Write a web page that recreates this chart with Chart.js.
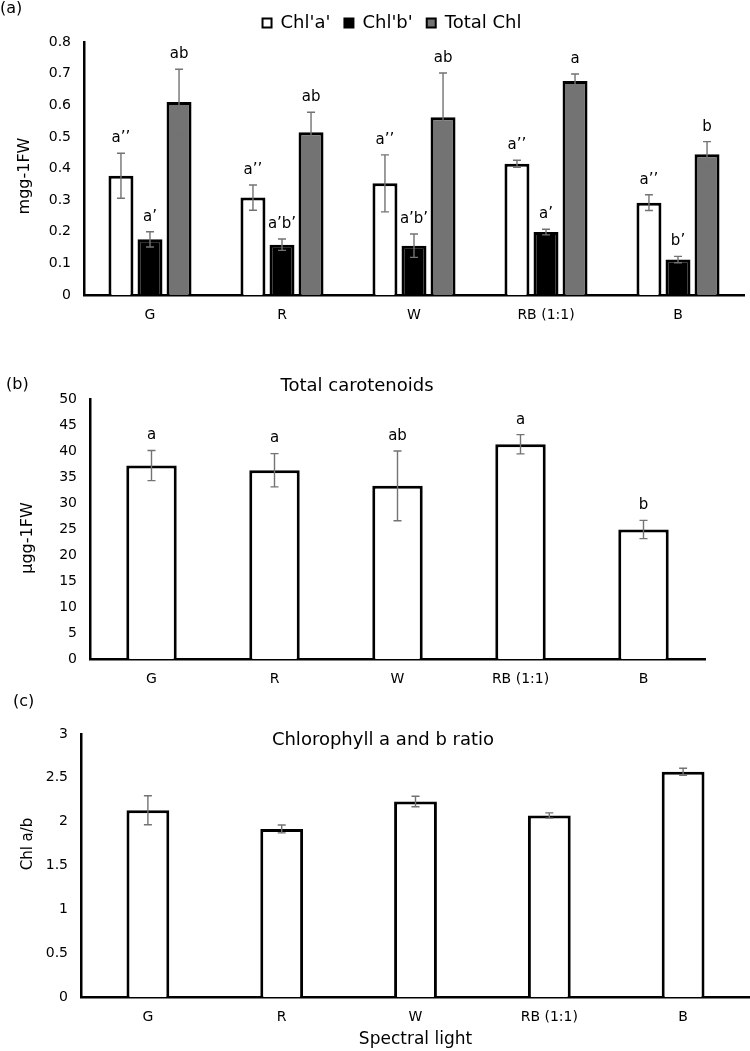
<!DOCTYPE html>
<html>
<head>
<meta charset="utf-8">
<script src="https://cdn.jsdelivr.net/npm/chart.js@4"></script>
<style>
  body { margin: 0; background: #fff; }
  .wrap { position: relative; width: 750px; height: 1051px; }
  canvas { position: absolute; left: 0; }
</style>
</head>
<body>
<div class="wrap">
  <canvas id="chartA" width="750" height="330" style="top:0"></canvas>
  <canvas id="chartB" width="750" height="360" style="top:330px"></canvas>
  <canvas id="chartC" width="750" height="361" style="top:690px"></canvas>
</div>
<script>
const categories = ['G', 'R', 'W', 'RB (1:1)', 'B'];

const chlA = [0.377, 0.308, 0.353, 0.415, 0.292];
const chlAErr = [0.071, 0.040, 0.090, 0.011, 0.025];
const chlALetters = ['a’’', 'a’’', 'a’’', 'a’’', 'a’’'];

const chlB = [0.176, 0.159, 0.156, 0.199, 0.112];
const chlBErr = [0.024, 0.018, 0.037, 0.009, 0.010];
const chlBLetters = ['a’', 'a’b’', 'a’b’', 'a’', 'b’'];

const totalChl = [0.610, 0.515, 0.562, 0.677, 0.445];
const totalChlErr = [0.104, 0.063, 0.140, 0.022, 0.040];
const totalChlLetters = ['ab', 'ab', 'ab', 'a', 'b'];

const carotenoids = [37.2, 36.3, 33.3, 41.3, 24.9];
const carotenoidsErr = [2.9, 3.2, 6.7, 1.85, 1.75];
const carotenoidsLetters = ['a', 'a', 'ab', 'a', 'b'];

const ratioAB = [2.13, 1.917, 2.23, 2.07, 2.57];
const ratioABErr = [0.165, 0.045, 0.06, 0.03, 0.04];

Chart.defaults.font.family = "'DejaVu Sans', sans-serif";
Chart.defaults.color = '#000';

// error bars + significance letters, from dataset.errors / dataset.letters
const errorBars = {
  id: 'errorBars',
  afterDatasetsDraw(chart) {
    const ctx = chart.ctx;
    const y = chart.scales.y;
    chart.data.datasets.forEach((ds, i) => {
      const meta = chart.getDatasetMeta(i);
      meta.data.forEach((bar, j) => {
        const v = ds.data[j];
        const e = ds.errors[j];
        const top = y.getPixelForValue(v + e);
        const bottom = y.getPixelForValue(v - e);
        ctx.save();
        ctx.strokeStyle = '#737373';
        ctx.lineWidth = 1.4;
        ctx.beginPath();
        ctx.moveTo(bar.x, top);
        ctx.lineTo(bar.x, bottom);
        ctx.moveTo(bar.x - 4, top);
        ctx.lineTo(bar.x + 4, top);
        ctx.moveTo(bar.x - 4, bottom);
        ctx.lineTo(bar.x + 4, bottom);
        ctx.stroke();
        if (ds.letters) {
          ctx.fillStyle = '#000';
          ctx.font = "15px 'DejaVu Sans'";
          ctx.textAlign = 'center';
          ctx.textBaseline = 'middle';
          ctx.fillText(ds.letters[j], bar.x, top - 15);
        }
        ctx.restore();
      });
    });
  }
};

// panel letter, title and y-axis title text
const panelText = {
  id: 'panelText',
  afterDraw(chart, args, opts) {
    const ctx = chart.ctx;
    ctx.save();
    ctx.fillStyle = '#000';
    ctx.textBaseline = 'middle';
    ctx.font = "16px 'DejaVu Sans'";
    ctx.textAlign = 'left';
    ctx.fillText(opts.label, opts.labelX, opts.labelY);
    if (opts.title) {
      ctx.font = "18px 'DejaVu Sans'";
      ctx.textAlign = 'center';
      ctx.fillText(opts.title, opts.titleX, opts.titleY);
    }
    ctx.translate(opts.yTitleX, opts.yTitleY);
    ctx.rotate(-Math.PI / 2);
    ctx.font = opts.yTitleSize + "px 'DejaVu Sans'";
    ctx.textAlign = 'center';
    ctx.fillText(opts.yTitle, 0, 0);
    ctx.restore();
  }
};

const shiftLegend = {
  id: 'shiftLegend',
  afterLayout(chart) {
    if (chart.legend && chart.options.plugins.legend.display) {
      chart.legend.left += 20;
      chart.legend.right += 20;
    }
  }
};

const plainNumber = (v) => String(Number(v.toFixed(2)));

function axes(max, step, yWidth, xHeight, xTitle) {
  return {
    x: {
      grid: { display: false, drawTicks: false },
      border: { display: true, color: '#000', width: 2.5 },
      ticks: { font: { size: 14 }, padding: 12 },
      title: xTitle ? { display: true, text: xTitle, font: { size: 17 }, padding: { top: 0, bottom: 1 } } : { display: false },
      afterFit(scale) { scale.height = xHeight; }
    },
    y: {
      min: 0,
      max: max,
      grid: { display: false, drawTicks: false },
      border: { display: true, color: '#000', width: 2.5 },
      ticks: { stepSize: step, font: { size: 14 }, padding: 13, callback: plainNumber },
      afterFit(scale) { scale.width = yWidth; }
    }
  };
}

new Chart(document.getElementById('chartA'), {
  type: 'bar',
  data: {
    labels: categories,
    datasets: [
      { label: "Chl'a'", data: chlA, errors: chlAErr, letters: chlALetters, backgroundColor: '#fff', borderColor: '#000', borderWidth: 3 },
      { label: "Chl'b'", data: chlB, errors: chlBErr, letters: chlBLetters, backgroundColor: '#000', borderColor: '#000', borderWidth: 3 },
      { label: 'Total Chl', data: totalChl, errors: totalChlErr, letters: totalChlLetters, backgroundColor: '#737373', borderColor: '#000', borderWidth: 3 }
    ]
  },
  options: {
    responsive: false,
    animation: false,
    devicePixelRatio: 1,
    categoryPercentage: 0.66,
    barPercentage: 0.86,
    layout: { padding: { top: 0, right: 6, left: 0, bottom: 0 } },
    scales: axes(0.8, 0.1, 84, 35),
    plugins: {
      legend: {
        display: true,
        position: 'top',
        labels: {
          font: { size: 18 },
          boxWidth: 9,
          boxHeight: 9,
          padding: 14,
          generateLabels(chart) {
            return Chart.defaults.plugins.legend.labels.generateLabels(chart).map(l => ({ ...l, lineWidth: 2 }));
          }
        }
      },
      tooltip: { enabled: false },
      panelText: { label: '(a)', labelX: 0, labelY: 9, yTitle: 'mgg-1FW', yTitleX: 25, yTitleY: 176, yTitleSize: 16 }
    }
  },
  plugins: [errorBars, panelText, shiftLegend]
});

new Chart(document.getElementById('chartB'), {
  type: 'bar',
  data: {
    labels: categories,
    datasets: [
      { label: 'Total carotenoids', data: carotenoids, errors: carotenoidsErr, letters: carotenoidsLetters, backgroundColor: '#fff', borderColor: '#000', borderWidth: 3 }
    ]
  },
  options: {
    responsive: false,
    animation: false,
    devicePixelRatio: 1,
    categoryPercentage: 0.82,
    barPercentage: 0.5,
    layout: { padding: { top: 69, right: 45, left: 0, bottom: 0 } },
    scales: axes(50, 5, 90, 31),
    plugins: {
      legend: { display: false },
      tooltip: { enabled: false },
      panelText: { label: '(b)', labelX: 6, labelY: 55, title: 'Total carotenoids', titleX: 357, titleY: 56, yTitle: 'µgg-1FW', yTitleX: 28, yTitleY: 208, yTitleSize: 16 }
    }
  },
  plugins: [errorBars, panelText]
});

new Chart(document.getElementById('chartC'), {
  type: 'bar',
  data: {
    labels: categories,
    datasets: [
      { label: 'Chl a/b', data: ratioAB, errors: ratioABErr, backgroundColor: '#fff', borderColor: '#000', borderWidth: 3 }
    ]
  },
  options: {
    responsive: false,
    animation: false,
    devicePixelRatio: 1,
    categoryPercentage: 0.8,
    barPercentage: 0.4,
    layout: { padding: { top: 44, right: 0, left: 0, bottom: 0 } },
    scales: axes(3, 0.5, 81, 54, 'Spectral light'),
    plugins: {
      legend: { display: false },
      tooltip: { enabled: false },
      panelText: { label: '(c)', labelX: 13, labelY: 12, title: 'Chlorophyll a and b ratio', titleX: 383, titleY: 50, yTitle: 'Chl a/b', yTitleX: 28, yTitleY: 154, yTitleSize: 15 }
    }
  },
  plugins: [errorBars, panelText]
});
</script>
</body>
</html>
